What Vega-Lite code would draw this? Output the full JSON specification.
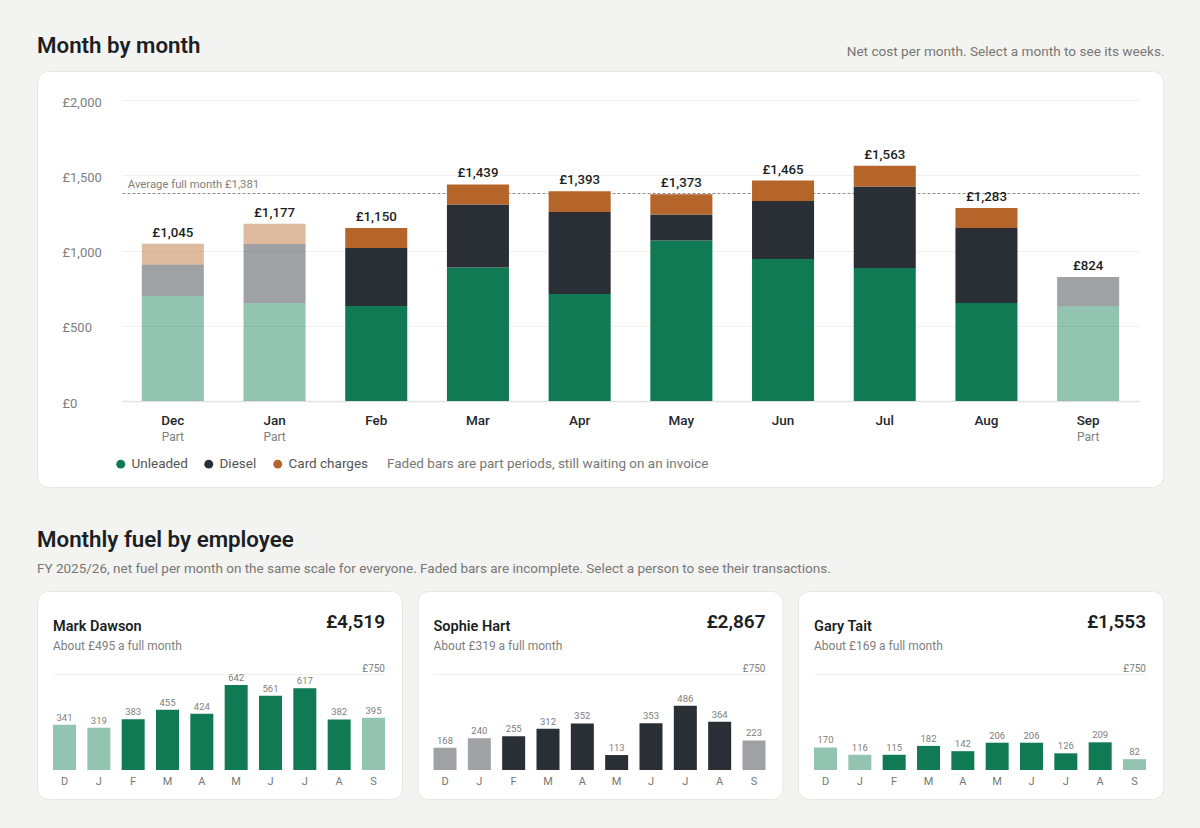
{"$schema":"https://vega.github.io/schema/vega-lite/v6.json","padding":{"left":36,"top":34,"right":36,"bottom":29},"background":"#f3f3f1","bounds":"flush","spacing":104,
"config":{"font":"Roboto","view":{"fill":"#ffffff","stroke":"#e6e6e3","strokeWidth":1,"cornerRadius":11},"axis":{"labelFont":"Roboto","titleFont":"Roboto"},"legend":{"labelFont":"Roboto","titleFont":"Roboto"},"title":{"font":"Roboto"},"concat":{"spacing":15.5}},
"datasets":{
"stack":[
{"month":"Dec","type":"Unleaded","net":698,"status":"Part"},{"month":"Dec","type":"Diesel","net":209,"status":"Part"},{"month":"Dec","type":"Card charges","net":138,"status":"Part"},
{"month":"Jan","type":"Unleaded","net":651,"status":"Part"},{"month":"Jan","type":"Diesel","net":392,"status":"Part"},{"month":"Jan","type":"Card charges","net":134,"status":"Part"},
{"month":"Feb","type":"Unleaded","net":631,"status":"Full"},{"month":"Feb","type":"Diesel","net":386,"status":"Full"},{"month":"Feb","type":"Card charges","net":133,"status":"Full"},
{"month":"Mar","type":"Unleaded","net":887,"status":"Full"},{"month":"Mar","type":"Diesel","net":419,"status":"Full"},{"month":"Mar","type":"Card charges","net":133,"status":"Full"},
{"month":"Apr","type":"Unleaded","net":711,"status":"Full"},{"month":"Apr","type":"Diesel","net":545,"status":"Full"},{"month":"Apr","type":"Card charges","net":137,"status":"Full"},
{"month":"May","type":"Unleaded","net":1066,"status":"Full"},{"month":"May","type":"Diesel","net":173,"status":"Full"},{"month":"May","type":"Card charges","net":134,"status":"Full"},
{"month":"Jun","type":"Unleaded","net":944,"status":"Full"},{"month":"Jun","type":"Diesel","net":385,"status":"Full"},{"month":"Jun","type":"Card charges","net":136,"status":"Full"},
{"month":"Jul","type":"Unleaded","net":884,"status":"Full"},{"month":"Jul","type":"Diesel","net":541,"status":"Full"},{"month":"Jul","type":"Card charges","net":138,"status":"Full"},
{"month":"Aug","type":"Unleaded","net":651,"status":"Full"},{"month":"Aug","type":"Diesel","net":499,"status":"Full"},{"month":"Aug","type":"Card charges","net":133,"status":"Full"},
{"month":"Sep","type":"Unleaded","net":631,"status":"Part"},{"month":"Sep","type":"Diesel","net":193,"status":"Part"}],
"totals":[{"month":"Dec","total":1045,"label":"£1,045"},{"month":"Jan","total":1177,"label":"£1,177"},{"month":"Feb","total":1150,"label":"£1,150"},{"month":"Mar","total":1439,"label":"£1,439"},{"month":"Apr","total":1393,"label":"£1,393"},{"month":"May","total":1373,"label":"£1,373"},{"month":"Jun","total":1465,"label":"£1,465"},{"month":"Jul","total":1563,"label":"£1,563"},{"month":"Aug","total":1283,"label":"£1,283"},{"month":"Sep","total":824,"label":"£824"}],
"mark":[{"month":"Dec","net":341,"status":"Part"},{"month":"Jan","net":319,"status":"Part"},{"month":"Feb","net":383,"status":"Full"},{"month":"Mar","net":455,"status":"Full"},{"month":"Apr","net":424,"status":"Full"},{"month":"May","net":642,"status":"Full"},{"month":"Jun","net":561,"status":"Full"},{"month":"Jul","net":617,"status":"Full"},{"month":"Aug","net":382,"status":"Full"},{"month":"Sep","net":395,"status":"Part"}],
"sophie":[{"month":"Dec","net":168,"status":"Part"},{"month":"Jan","net":240,"status":"Part"},{"month":"Feb","net":255,"status":"Full"},{"month":"Mar","net":312,"status":"Full"},{"month":"Apr","net":352,"status":"Full"},{"month":"May","net":113,"status":"Full"},{"month":"Jun","net":353,"status":"Full"},{"month":"Jul","net":486,"status":"Full"},{"month":"Aug","net":364,"status":"Full"},{"month":"Sep","net":223,"status":"Part"}],
"gary":[{"month":"Dec","net":170,"status":"Part"},{"month":"Jan","net":116,"status":"Part"},{"month":"Feb","net":115,"status":"Full"},{"month":"Mar","net":182,"status":"Full"},{"month":"Apr","net":142,"status":"Full"},{"month":"May","net":206,"status":"Full"},{"month":"Jun","net":206,"status":"Full"},{"month":"Jul","net":126,"status":"Full"},{"month":"Aug","net":209,"status":"Full"},{"month":"Sep","net":82,"status":"Part"}]
},
"vconcat":[
{"width":1126,"height":416,
"title":{"text":"Month by month","anchor":"start","frame":"group","offset":-13,"fontSize":22.3,"fontWeight":600,"color":"#1b1f23"},
"resolve":{"axis":{"x":"independent","y":"independent"}},
"layer":[
{"data":{"name":"stack"},"mark":{"type":"bar"},
"encoding":{
"x":{"field":"month","type":"nominal","sort":null,"scale":{"domain":["Dec","Jan","Feb","Mar","Apr","May","Jun","Jul","Aug","Sep"],"range":[85,1102],"paddingInner":0.39,"paddingOuter":0.195},
"axis":{"orient":"bottom","title":null,"offset":-86,"domainColor":"#e2e2df","domainWidth":1.5,"ticks":false,"labelAngle":0,"labelPadding":12,"labelFontSize":13.5,"labelFontWeight":500,"labelColor":"#24282d"}},
"y":{"field":"net","type":"quantitative","stack":"zero","scale":{"domain":[0,2000],"range":[330,29],"nice":false},
"axis":{"orient":"left","title":null,"values":[0,500,1000,1500,2000],"domain":false,"ticks":false,"grid":true,"gridColor":"#f0f0ee","labelAlign":"left","labelPadding":-25,"labelOffset":2,"labelFontSize":13,"labelColor":"#80807e","labelExpr":"'£' + format(datum.value, ',')"}},
"color":{"field":"type","type":"nominal","scale":{"domain":["Unleaded","Diesel","Card charges"],"range":["#0f7a53","#2a2f36","#b5652a"]},
"legend":{"orient":"none","legendX":77,"legendY":386,"direction":"horizontal","title":"Faded bars are part periods, still waiting on an invoice","titleLimit":500,"titleOrient":"right","titleFontSize":13.5,"titleFontWeight":400,"titleColor":"#777775","titlePadding":19,"labelFontSize":13.5,"labelColor":"#555553","symbolType":"circle","symbolSize":80,"symbolStrokeWidth":0,"columnPadding":14,"labelOffset":4}},
"opacity":{"field":"status","type":"ordinal","scale":{"domain":["Part","Full"],"range":[0.45,1]},"legend":null}}},
{"data":{"name":"totals"},"mark":{"type":"text","dy":-11,"fontSize":13.3,"fontWeight":500,"color":"#1b1f23"},
"encoding":{
"x":{"field":"month","type":"nominal","sort":null,
"axis":{"orient":"bottom","title":null,"offset":-86,"domain":false,"ticks":false,"labelAngle":0,"labelPadding":30,"labelFontSize":12,"labelColor":"#80807e","labelExpr":"datum.value == 'Dec' || datum.value == 'Jan' || datum.value == 'Sep' ? 'Part' : ''"}},
"y":{"field":"total","type":"quantitative","axis":{"orient":"left","title":null,"values":[1381],"labels":false,"domain":false,"ticks":false,"grid":true,"gridColor":"#8c8c8a","gridDash":[3,2],"gridWidth":1}},
"text":{"field":"label"}}},
{"data":{"values":[{"note":"Average full month £1,381","month":"Dec","level":1381}]},"mark":{"type":"text","align":"left","dx":-14,"dy":-8,"fontSize":11.3,"color":"#80807e"},
"encoding":{
"x":{"field":"month","type":"nominal","sort":null,"bandPosition":0,
"axis":{"orient":"top","labels":false,"ticks":false,"domain":false,"title":"Net cost per month. Select a month to see its weeks.","titleX":1127,"titleY":-20,"titleAlign":"right","titleBaseline":"middle","titleFontSize":13.6,"titleFontWeight":400,"titleColor":"#777775"}},
"y":{"field":"level","type":"quantitative","axis":null},
"text":{"field":"note"}}}
]},
{"title":{"text":"Monthly fuel by employee","subtitle":"FY 2025/26, net fuel per month on the same scale for everyone. Faded bars are incomplete. Select a person to see their transactions.","anchor":"start","frame":"group","offset":15,"fontSize":22.3,"fontWeight":600,"color":"#1b1f23","subtitleFont":"Roboto","subtitleFontSize":13.5,"subtitleColor":"#777775","subtitlePadding":11},
"bounds":"flush","hconcat":[
{"width":365,"height":208,"title":{"text":"Mark Dawson","subtitle":"About £495 a full month","anchor":"start","frame":"group","offset":-62,"dx":16,"fontSize":14.5,"fontWeight":600,"color":"#1b1f23","subtitleFontSize":12,"subtitleColor":"#80807e","subtitlePadding":7},
"layer":[
{"data":{"name":"mark"},"mark":{"type":"bar","color":"#0f7a53"},"encoding":{
"x":{"field":"month","type":"nominal","sort":null,"scale":{"domain":["Dec","Jan","Feb","Mar","Apr","May","Jun","Jul","Aug","Sep"],"range":[16,348],"paddingInner":0.33,"paddingOuter":0},"axis":{"title":null,"offset":-29,"domain":false,"ticks":false,"labelAngle":0,"labelPadding":5,"labelFontSize":11,"labelColor":"#777775","labelExpr":"slice(datum.value,0,1)"}},
"y":{"field":"net","type":"quantitative","scale":{"domain":[0,725],"range":[179,83],"nice":false},"axis":{"title":null,"values":[725],"labels":false,"domain":false,"ticks":false,"grid":true,"gridColor":"#f0f0ee"}},
"opacity":{"field":"status","type":"ordinal","scale":{"domain":["Part","Full"],"range":[0.45,1]},"legend":null}}},
{"data":{"name":"mark"},"mark":{"type":"text","dy":-7,"fontSize":9.5,"color":"#80807e"},"encoding":{"x":{"field":"month","type":"nominal","sort":null},"y":{"field":"net","type":"quantitative"},"text":{"field":"net","type":"quantitative"}}},
{"data":{"values":[{"month":"Sep","year":"£4,519"}]},"mark":{"type":"text","align":"right","fontSize":19,"fontWeight":600,"color":"#1b1f23"},"encoding":{"x":{"field":"month","type":"nominal","sort":null,"bandPosition":1},"y":{"datum":1118},"text":{"field":"year"}}},
{"data":{"values":[{"month":"Sep","ceiling":725,"tag":"£750"}]},"mark":{"type":"text","align":"right","dy":-5,"fontSize":10,"color":"#80807e"},"encoding":{"x":{"field":"month","type":"nominal","sort":null,"bandPosition":1},"y":{"field":"ceiling","type":"quantitative"},"text":{"field":"tag"}}}
]},
{"width":365,"height":208,"title":{"text":"Sophie Hart","subtitle":"About £319 a full month","anchor":"start","frame":"group","offset":-62,"dx":16,"fontSize":14.5,"fontWeight":600,"color":"#1b1f23","subtitleFontSize":12,"subtitleColor":"#80807e","subtitlePadding":7},
"layer":[
{"data":{"name":"sophie"},"mark":{"type":"bar","color":"#2a2f36"},"encoding":{
"x":{"field":"month","type":"nominal","sort":null,"scale":{"domain":["Dec","Jan","Feb","Mar","Apr","May","Jun","Jul","Aug","Sep"],"range":[16,348],"paddingInner":0.33,"paddingOuter":0},"axis":{"title":null,"offset":-29,"domain":false,"ticks":false,"labelAngle":0,"labelPadding":5,"labelFontSize":11,"labelColor":"#777775","labelExpr":"slice(datum.value,0,1)"}},
"y":{"field":"net","type":"quantitative","scale":{"domain":[0,725],"range":[179,83],"nice":false},"axis":{"title":null,"values":[725],"labels":false,"domain":false,"ticks":false,"grid":true,"gridColor":"#f0f0ee"}},
"opacity":{"field":"status","type":"ordinal","scale":{"domain":["Part","Full"],"range":[0.45,1]},"legend":null}}},
{"data":{"name":"sophie"},"mark":{"type":"text","dy":-7,"fontSize":9.5,"color":"#80807e"},"encoding":{"x":{"field":"month","type":"nominal","sort":null},"y":{"field":"net","type":"quantitative"},"text":{"field":"net","type":"quantitative"}}},
{"data":{"values":[{"month":"Sep","year":"£2,867"}]},"mark":{"type":"text","align":"right","fontSize":19,"fontWeight":600,"color":"#1b1f23"},"encoding":{"x":{"field":"month","type":"nominal","sort":null,"bandPosition":1},"y":{"datum":1118},"text":{"field":"year"}}},
{"data":{"values":[{"month":"Sep","ceiling":725,"tag":"£750"}]},"mark":{"type":"text","align":"right","dy":-5,"fontSize":10,"color":"#80807e"},"encoding":{"x":{"field":"month","type":"nominal","sort":null,"bandPosition":1},"y":{"field":"ceiling","type":"quantitative"},"text":{"field":"tag"}}}
]},
{"width":365,"height":208,"title":{"text":"Gary Tait","subtitle":"About £169 a full month","anchor":"start","frame":"group","offset":-62,"dx":16,"fontSize":14.5,"fontWeight":600,"color":"#1b1f23","subtitleFontSize":12,"subtitleColor":"#80807e","subtitlePadding":7},
"layer":[
{"data":{"name":"gary"},"mark":{"type":"bar","color":"#0f7a53"},"encoding":{
"x":{"field":"month","type":"nominal","sort":null,"scale":{"domain":["Dec","Jan","Feb","Mar","Apr","May","Jun","Jul","Aug","Sep"],"range":[16,348],"paddingInner":0.33,"paddingOuter":0},"axis":{"title":null,"offset":-29,"domain":false,"ticks":false,"labelAngle":0,"labelPadding":5,"labelFontSize":11,"labelColor":"#777775","labelExpr":"slice(datum.value,0,1)"}},
"y":{"field":"net","type":"quantitative","scale":{"domain":[0,725],"range":[179,83],"nice":false},"axis":{"title":null,"values":[725],"labels":false,"domain":false,"ticks":false,"grid":true,"gridColor":"#f0f0ee"}},
"opacity":{"field":"status","type":"ordinal","scale":{"domain":["Part","Full"],"range":[0.45,1]},"legend":null}}},
{"data":{"name":"gary"},"mark":{"type":"text","dy":-7,"fontSize":9.5,"color":"#80807e"},"encoding":{"x":{"field":"month","type":"nominal","sort":null},"y":{"field":"net","type":"quantitative"},"text":{"field":"net","type":"quantitative"}}},
{"data":{"values":[{"month":"Sep","year":"£1,553"}]},"mark":{"type":"text","align":"right","fontSize":19,"fontWeight":600,"color":"#1b1f23"},"encoding":{"x":{"field":"month","type":"nominal","sort":null,"bandPosition":1},"y":{"datum":1118},"text":{"field":"year"}}},
{"data":{"values":[{"month":"Sep","ceiling":725,"tag":"£750"}]},"mark":{"type":"text","align":"right","dy":-5,"fontSize":10,"color":"#80807e"},"encoding":{"x":{"field":"month","type":"nominal","sort":null,"bandPosition":1},"y":{"field":"ceiling","type":"quantitative"},"text":{"field":"tag"}}}
]}
]}
]}
